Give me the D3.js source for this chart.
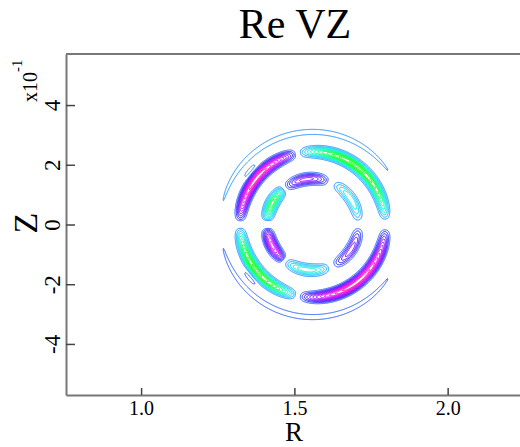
<!doctype html>
<html lang="en">
<head>
<meta charset="utf-8">
<title>Re VZ</title>
<script src="https://d3js.org/d3.v7.min.js"></script>
<style>
  body { margin: 0; background: #fff; }
  text { font-family: 'Liberation Serif', 'Times New Roman', serif; fill: #000; }
</style>
</head>
<body>
<div id="holder"></div>
<script>
  // lobes of the field
  // angles in degrees, counter-clockwise from +R; radius and width in R units
  const lobeStart  = [69, 3, 129, 184, 233, 296,   103, 3, 182, 259,   6, 165,   131, 212];
  const lobeEnd    = [127, 64, 176, 231, 292, 357,  178, 101, 257, 357,  195, 354,  148, 229];
  const lobeRadius = [0.149, 0.149, 0.149, 0.149, 0.149, 0.149,  0.237, 0.237, 0.237, 0.237,  0.302, 0.302,  0.270, 0.270];
  const lobeWidth  = [0.017, 0.017, 0.017, 0.017, 0.017, 0.017,  0.0165, 0.0165, 0.0165, 0.0165,  0.0115, 0.0115,  0.009, 0.009];
  const lobeAmp    = [-0.52, 0.4, 0.75, -0.75, 0.47, -0.45,  -1.0, 0.95, 0.95, -1.0,  0.17, -0.17,  0.17, -0.17];

  const ringR = 1.560, ringZ = 0.0, elong = 1.027;
  const levels = d3.range(0, 12).map(function(k) { return 0.1 + k * 0.075; });

  const rDomain = [0.755, 2.236];
  const zDomain = [-0.571, 0.571];
  const rTicks = [1.0, 1.5, 2.0];
  const rTickLabels = ['1.0', '1.5', '2.0'];
  const zTicks = [-0.4, -0.2, 0, 0.2, 0.4];
  const zTickLabels = ['-4', '-2', '0', '2', '4'];

  const W = 520, H = 447;
  const margin = { top: 54, right: 520, bottom: 395, left: 66 };

  const x = d3.scaleLinear().domain(rDomain).range([margin.left, margin.right]);
  const y = d3.scaleLinear().domain(zDomain).range([margin.bottom, margin.top]);

  const posColor = d3.scaleLinear()
      .domain([0.1, 0.2, 0.3, 0.45, 0.6, 0.8])
      .range(['#1e90ff', '#00c0ff', '#00e8f0', '#00ffb0', '#00ff60', '#00ff00'])
      .clamp(true);
  const negColor = d3.scaleLinear()
      .domain([0.1, 0.2, 0.3, 0.45, 0.6, 0.8, 0.95])
      .range(['#2b5fff', '#1010ff', '#4a00ff', '#8a00ff', '#c800ff', '#ff00e0', '#ff0090'])
      .clamp(true);

  // sample the field on a grid
  const nx = 454, ny = 341;
  const dR = (rDomain[1] - rDomain[0]) / nx;
  const dZ = (zDomain[1] - zDomain[0]) / ny;
  const vals = new Float64Array(nx * ny);
  const negVals = new Float64Array(nx * ny);

  for (let j = 0; j < ny; j++) {
    const Z = zDomain[1] - (j + 0.5) * dZ;
    for (let i = 0; i < nx; i++) {
      const R = rDomain[0] + (i + 0.5) * dR;
      const a = R - ringR, b = (Z - ringZ) / elong;
      const rho = Math.sqrt(a * a + b * b);
      let th = Math.atan2(b, a) * 180 / Math.PI;
      if (th < 0) th += 360;
      let v = 0;
      for (let k = 0; k < lobeAmp.length; k++) {
        const t = (rho - lobeRadius[k]) / lobeWidth[k];
        if (Math.abs(t) > 4) continue;
        const u = (th - lobeStart[k]) / (lobeEnd[k] - lobeStart[k]);
        if (u <= 0 || u >= 1) continue;
        v += lobeAmp[k] * Math.exp(-t * t) * Math.pow(Math.sin(Math.PI * u), 0.7);
      }
      vals[j * nx + i] = v;
      negVals[j * nx + i] = -v;
    }
  }

  const svg = d3.select('#holder')
    .append('svg')
    .attr('width', W)
    .attr('height', H);

  const toScreen = d3.geoTransform({
    point: function(px, py) {
      this.stream.point(x(rDomain[0] + px * dR), y(zDomain[1] - py * dZ));
    }
  });
  const path = d3.geoPath(toScreen);

  const contours = d3.contours().size([nx, ny]).thresholds(levels);

  svg.append('g')
    .selectAll('path')
    .data(contours(negVals))
    .enter().append('path')
      .attr('d', path)
      .attr('fill', 'none')
      .attr('stroke', function(d) { return negColor(d.value); })
      .attr('stroke-width', 1);

  svg.append('g')
    .selectAll('path')
    .data(contours(vals))
    .enter().append('path')
      .attr('d', path)
      .attr('fill', 'none')
      .attr('stroke', function(d) { return posColor(d.value); })
      .attr('stroke-width', 1);

  // axes
  const yAxis = d3.axisLeft(y)
    .tickValues(zTicks)
    .tickSize(-9)
    .tickSizeOuter(0)
    .tickFormat(function(d, i) { return zTickLabels[i]; });

  const xAxis = d3.axisBottom(x)
    .tickValues(rTicks)
    .tickSize(-7)
    .tickSizeOuter(0)
    .tickFormat(function(d, i) { return rTickLabels[i]; });

  const gy = svg.append('g')
    .attr('transform', 'translate(' + margin.left + ',0)')
    .call(yAxis);
  gy.selectAll('text')
    .attr('x', null).attr('dy', null)
    .attr('transform', 'translate(-6,0) rotate(-90)')
    .attr('text-anchor', 'middle')
    .style('font-size', '23px')
    .style('font-family', "'Liberation Serif', serif");

  const gx = svg.append('g')
    .attr('transform', 'translate(0,' + margin.bottom + ')')
    .call(xAxis);
  gx.selectAll('text')
    .attr('y', 20).attr('dy', null)
    .style('font-size', '20px')
    .style('font-family', "'Liberation Serif', serif");

  svg.selectAll('.domain').attr('stroke', '#777').attr('stroke-width', 2);
  svg.selectAll('.tick line').attr('stroke', '#444').attr('stroke-width', 1.5);

  svg.append('line')
    .attr('x1', margin.left).attr('x2', margin.right)
    .attr('y1', margin.top).attr('y2', margin.top)
    .attr('stroke', '#777').attr('stroke-width', 2);

  // titles
  svg.append('text')
    .text('Re VZ')
    .attr('x', 295).attr('y', 38)
    .attr('text-anchor', 'middle')
    .style('font-size', '42px');

  svg.append('text')
    .text('R')
    .attr('x', 294).attr('y', 441)
    .attr('text-anchor', 'middle')
    .style('font-size', '27px');

  svg.append('text')
    .text('Z')
    .attr('transform', 'translate(36.5,223) rotate(-90)')
    .attr('text-anchor', 'middle')
    .style('font-size', '34px');

  const mult = svg.append('text')
    .attr('transform', 'translate(36.5,102) rotate(-90)')
    .attr('text-anchor', 'start')
    .style('font-size', '20px');
  mult.append('tspan').text('x10');
  mult.append('tspan').text('-1').attr('dy', -15).style('font-size', '15px');
</script>
</body>
</html>
